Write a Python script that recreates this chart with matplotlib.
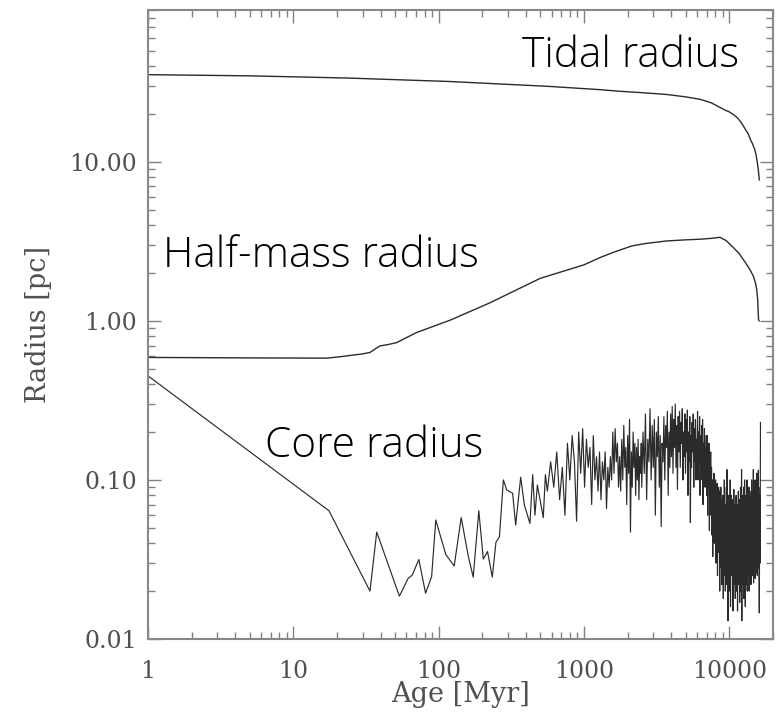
import matplotlib
matplotlib.use("Agg")
import matplotlib.pyplot as plt

# radii of the cluster versus age (Myr, pc)

# tidal radius
tidal_age = [1, 5, 24, 116, 570, 1300, 1720, 2500, 3700, 5000, 6300, 7500,
             8000, 8600, 9500, 10000, 10700, 11300, 11900, 12400, 12900,
             13500, 14000, 14500, 15000, 15300, 15600, 15850, 16100]
tidal_r = [35.3, 34.7, 33.6, 32.0, 29.8, 28.4, 27.8, 27.2, 26.5, 25.6, 24.7,
           23.5, 22.8, 22.0, 21.0, 20.6, 19.8, 19.0, 18.0, 17.0, 16.0, 15.0,
           13.8, 12.9, 11.9, 11.0, 9.9, 8.9, 7.7]

# half-mass radius
half_age = [1, 5, 17, 21, 30, 33.7, 36, 39.5, 45, 51.4, 70.6, 120, 226, 500,
            1000, 1290, 1600, 2140, 2700, 3720, 5000, 6260, 7500, 8630, 9500,
            10660, 11700, 12880, 13800, 14620, 15100, 15450, 15700, 15900,
            16050]
half_r = [0.589, 0.585, 0.583, 0.595, 0.62, 0.633, 0.66, 0.696, 0.71, 0.73,
          0.845, 1.01, 1.3, 1.85, 2.25, 2.5, 2.7, 2.96, 3.07, 3.18, 3.23,
          3.26, 3.3, 3.35, 3.2, 2.89, 2.65, 2.33, 2.12, 1.92, 1.75, 1.58,
          1.35, 1.02, 1.0]

# core radius, early (sparse) part
core_age_early = [1, 17.6, 33.7, 37.5, 53.7, 61.8, 65.8, 73.1, 81.3, 89.5,
                  95.6, 112, 128, 143, 160, 173, 189, 203, 217, 234, 248, 262,
                  279, 294, 323, 339, 367, 389, 425, 444, 460, 478, 525, 543]
core_r_early = [0.451, 0.064, 0.020, 0.047, 0.0186, 0.0241, 0.0252, 0.0316,
                0.0194, 0.0247, 0.056, 0.034, 0.0288, 0.058, 0.0331, 0.0245,
                0.064, 0.0318, 0.0355, 0.0245, 0.0406, 0.0438, 0.100, 0.0865,
                0.0825, 0.052, 0.104, 0.0696, 0.0533, 0.108, 0.060, 0.093,
                0.058, 0.108]

# core radius, 560 - 2480 Myr
core_age_mid = [560, 590, 620, 650, 680, 710, 740, 770, 800, 830,
                860, 890, 920, 950, 980, 1010, 1040, 1070, 1100, 1130,
                1160, 1190, 1220, 1250, 1280, 1310, 1340, 1370, 1400, 1430,
                1460, 1490, 1520, 1550, 1580, 1610, 1640, 1670, 1700, 1730,
                1760, 1790, 1820, 1850, 1880, 1910, 1940, 1970, 2000, 2030,
                2060, 2090, 2120, 2150, 2180, 2210, 2240, 2270, 2300, 2330,
                2360, 2390, 2420, 2450, 2480]
core_r_mid = [0.085, 0.13, 0.09, 0.15, 0.075, 0.12, 0.06, 0.17, 0.1, 0.19,
              0.13, 0.055, 0.2, 0.11, 0.21, 0.09, 0.18, 0.12, 0.16, 0.07,
              0.19, 0.1, 0.14, 0.085, 0.15, 0.075, 0.13, 0.1, 0.15, 0.066,
              0.12, 0.09, 0.14, 0.1, 0.2, 0.11, 0.21, 0.13, 0.17, 0.09,
              0.14, 0.085, 0.18, 0.1, 0.22, 0.12, 0.16, 0.07, 0.19, 0.11,
              0.24, 0.047, 0.15, 0.09, 0.2, 0.12, 0.17, 0.08, 0.16, 0.1,
              0.18, 0.075, 0.14, 0.11, 0.17]

# core radius, late (dense) part
core_age_late = [
    2500, 2550, 2600, 2650, 2700, 2750, 2800, 2850, 2900, 2950,
    3000, 3050, 3100, 3150, 3200, 3250, 3300, 3350, 3400, 3450,
    3500, 3550, 3600, 3650, 3700, 3750, 3800, 3850, 3900, 3950,
    4000, 4050, 4100, 4150, 4200, 4250, 4300, 4350, 4400, 4450,
    4500, 4550, 4600, 4650, 4700, 4750, 4800, 4850, 4900, 4950,
    5000, 5050, 5100, 5150, 5200, 5250, 5300, 5350, 5400, 5450,
    5500, 5550, 5600, 5650, 5700, 5750, 5800, 5850, 5900, 5950,
    6000, 6050, 6100, 6150, 6200, 6250, 6300, 6350, 6400, 6450,
    6500, 6550, 6600, 6650, 6700, 6750, 6800, 6850, 6900, 6950,
    7000, 7050, 7100, 7150, 7200, 7250, 7300, 7350, 7400, 7450,
    7500, 7550, 7600, 7650, 7700, 7750, 7800, 7850, 7900, 7950,
    8000, 8050, 8100, 8150, 8200, 8250, 8300, 8350, 8400, 8450,
    8500, 8550, 8600, 8650, 8700, 8750, 8800, 8850, 8900, 8950,
    9000, 9050, 9100, 9150, 9200, 9250, 9300, 9350, 9400, 9450,
    9500, 9550, 9600, 9650, 9700, 9750, 9800, 9850, 9900, 9950,
    10000, 10050, 10100, 10150, 10200, 10250, 10300, 10350, 10400, 10450,
    10500, 10550, 10600, 10650, 10700, 10750, 10800, 10850, 10900, 10950,
    11000, 11050, 11100, 11150, 11200, 11250, 11300, 11350, 11400, 11450,
    11500, 11550, 11600, 11650, 11700, 11750, 11800, 11850, 11900, 11950,
    12000, 12050, 12100, 12150, 12200, 12250, 12300, 12350, 12400, 12450,
    12500, 12550, 12600, 12650, 12700, 12750, 12800, 12850, 12900, 12950,
    13000, 13050, 13100, 13150, 13200, 13250, 13300, 13350, 13400, 13450,
    13500, 13550, 13600, 13650, 13700, 13750, 13800, 13850, 13900, 13950,
    14000, 14050, 14100, 14150, 14200, 14250, 14300, 14350, 14400, 14450,
    14500, 14550, 14600, 14650, 14700, 14750, 14800, 14850, 14900, 14950,
    15000, 15050, 15100, 15150, 15200, 15250, 15300, 15350, 15400, 15450,
    15500, 15550, 15600, 15650, 15700, 15750, 15800, 15850, 15900, 15950,
    16000, 16100, 16200, 16300, 16400]
core_r_late = [
    0.09, 0.2, 0.11, 0.26, 0.075, 0.18, 0.13, 0.28, 0.1, 0.22,
    0.12, 0.24, 0.06, 0.2, 0.14, 0.25, 0.09, 0.19, 0.051, 0.17,
    0.13, 0.25, 0.1, 0.22, 0.16, 0.27, 0.08, 0.2, 0.12, 0.26,
    0.14, 0.29, 0.11, 0.24, 0.16, 0.3, 0.12, 0.22, 0.087, 0.25,
    0.15, 0.27, 0.12, 0.23, 0.17, 0.28, 0.1, 0.2, 0.14, 0.26,
    0.11, 0.24, 0.15, 0.275, 0.08, 0.2, 0.13, 0.25, 0.054, 0.19,
    0.12, 0.23, 0.15, 0.26, 0.09, 0.21, 0.13, 0.24, 0.1, 0.18,
    0.14, 0.27, 0.1, 0.2, 0.13, 0.25, 0.08, 0.19, 0.12, 0.22,
    0.1, 0.24, 0.07, 0.17, 0.12, 0.21, 0.09, 0.16, 0.11, 0.19,
    0.08, 0.19, 0.06, 0.14, 0.09, 0.17, 0.048, 0.12, 0.07, 0.15,
    0.06, 0.12, 0.045, 0.1, 0.033, 0.09, 0.055, 0.11, 0.04, 0.085,
    0.05, 0.1, 0.03, 0.08, 0.045, 0.095, 0.025, 0.07, 0.04, 0.09,
    0.035, 0.085, 0.02, 0.065, 0.04, 0.09, 0.028, 0.06, 0.022, 0.075,
    0.03, 0.08, 0.018, 0.06, 0.035, 0.1, 0.025, 0.07, 0.02, 0.055,
    0.04, 0.09, 0.022, 0.116, 0.03, 0.07, 0.013, 0.06, 0.035, 0.08,
    0.02, 0.065, 0.03, 0.1, 0.016, 0.055, 0.04, 0.08, 0.025, 0.06,
    0.03, 0.075, 0.015, 0.05, 0.035, 0.087, 0.022, 0.06, 0.028, 0.07,
    0.018, 0.055, 0.032, 0.08, 0.02, 0.065, 0.027, 0.05, 0.015, 0.07,
    0.035, 0.085, 0.022, 0.06, 0.03, 0.075, 0.017, 0.05, 0.04, 0.09,
    0.02, 0.07, 0.032, 0.116, 0.013, 0.06, 0.028, 0.08, 0.022, 0.055,
    0.035, 0.09, 0.018, 0.065, 0.03, 0.1, 0.025, 0.06, 0.016, 0.07,
    0.03, 0.08, 0.022, 0.06, 0.035, 0.1, 0.02, 0.065, 0.028, 0.075,
    0.025, 0.07, 0.035, 0.09, 0.02, 0.06, 0.03, 0.085, 0.024, 0.065,
    0.03, 0.08, 0.022, 0.07, 0.04, 0.1, 0.026, 0.06, 0.032, 0.085,
    0.025, 0.075, 0.035, 0.116, 0.0225, 0.065, 0.03, 0.09, 0.028, 0.07,
    0.035, 0.1, 0.024, 0.07, 0.04, 0.095, 0.026, 0.075, 0.032, 0.11,
    0.03, 0.08, 0.025, 0.1, 0.035, 0.07, 0.028, 0.115, 0.03, 0.09,
    0.04, 0.0146, 0.08, 0.03, 0.23]

core_age = core_age_early + core_age_mid + core_age_late
core_r = core_r_early + core_r_mid + core_r_late

xticks = [1, 10, 100, 1000, 10000]
xtick_labels = ["1", "10", "100", "1000", "10000"]
yticks = [0.01, 0.1, 1, 10]
ytick_labels = ["0.01", "0.10", "1.00", "10.00"]

plt.rcParams['font.family'] = ['DejaVu Serif']

fig = plt.figure(figsize=(7.8, 7.14), dpi=100)
ax = fig.add_axes([148/780, 75/714, 625/780, 629/714])

line_col = '#2b2b2b'
ax.plot(tidal_age, tidal_r, color=line_col, lw=1.0)
ax.plot(half_age, half_r, color=line_col, lw=1.0)
ax.plot(core_age, core_r, color=line_col, lw=0.85)

ax.set_xscale('log')
ax.set_yscale('log')
ax.set_xlim(1, 20000)
ax.set_ylim(0.01, 90)

ax.set_xticks(xticks)
ax.set_xticklabels(xtick_labels)
ax.set_yticks(yticks)
ax.set_yticklabels(ytick_labels)

ax.tick_params(which='both', direction='in', top=True, right=True,
               color='#808080', labelcolor='#505050')
ax.tick_params(which='major', length=9.5, width=1.0, labelsize=17)
ax.tick_params(which='minor', length=4.8, width=1.0)
ax.tick_params(axis='x', which='major', pad=15)
ax.tick_params(axis='y', which='major', pad=8)
for sp in ax.spines.values():
    sp.set_color('#888888')
    sp.set_linewidth(1.5)

# x label sits right at the bottom edge
ax.set_xlabel('Age [Myr]', fontsize=19.5, color='#505050')
ax.xaxis.set_label_coords(0.5, -0.067)
ax.set_ylabel('Radius [pc]', fontsize=19.5, color='#505050')
ax.yaxis.set_label_coords(-0.154, 0.5)

# curve names
name_font = dict(family=['Open Sans', 'DejaVu Sans'], fontsize=30.5,
                 weight='light', color='black', va='baseline', ha='left',
                 transform=ax.transAxes)
ax.text(0.598, 0.910, 'Tidal radius', **name_font)
ax.text(0.0245, 0.592, 'Half-mass radius', **name_font)
ax.text(0.187, 0.289, 'Core radius', **name_font)

fig.savefig('out.png', dpi=100)
